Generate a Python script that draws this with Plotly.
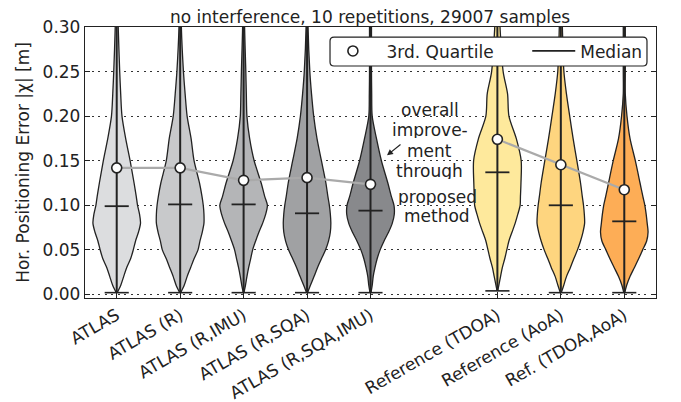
import plotly.graph_objects as go

# ---------------- data ----------------
categories = ["ATLAS", "ATLAS (R)", "ATLAS (R,IMU)", "ATLAS (R,SQA)", "ATLAS (R,SQA,IMU)",
              "Reference (TDOA)", "Reference (AoA)", "Ref. (TDOA,AoA)"]
positions = [0, 1, 2, 3, 4, 6, 7, 8]
medians = [0.099, 0.101, 0.101, 0.091, 0.094, 0.137, 0.100, 0.082]
third_quartiles = [0.142, 0.142, 0.128, 0.131, 0.1235, 0.174, 0.1455, 0.1175]
minima = [0.002, 0.002, 0.002, 0.002, 0.002, 0.004, 0.002, 0.002]
maxima = [0.40, 0.40, 0.40, 0.40, 0.40, 0.40, 0.40, 0.40]

# error levels at which the violin densities were read
levels = [0.0, 0.01, 0.02, 0.03, 0.04, 0.05, 0.06, 0.07, 0.08, 0.09, 0.10, 0.11,
          0.125, 0.15, 0.175, 0.20, 0.225, 0.25, 0.30, 0.33]
# relative (un-normalised) density at each level
dens_atlas = [0.5, 4, 7, 10, 14, 16.7, 19, 22, 24, 23, 21, 19.7, 17.5, 13.5, 9, 5.3, 4, 3, 1.5, 1]
dens_r = [0.5, 4, 7, 10.5, 14, 18, 20, 22.3, 24, 24, 23.3, 22, 19.5, 14, 11, 7, 5, 3.3, 1.2, 1]
dens_r_imu = [0.3, 1.8, 3.3, 5, 7, 9, 12, 15.3, 19, 22, 23.7, 21, 17.5, 10.5, 6, 3.3, 2.7, 2.2, 1, 1]
dens_r_sqa = [0.5, 3.3, 7, 10.5, 14.5, 18.7, 21.7, 23.5, 24, 23.5, 22.5, 21, 19, 14.5, 10, 6.7, 4.5, 2.8, 1, 1]
dens_r_sqa_imu = [0.5, 1.7, 2.7, 4.5, 6.7, 9.7, 13.7, 18.3, 22, 24, 23.7, 21, 17.5, 11, 6, 1.7, 1.2, 1, 1, 1]
dens_tdoa = [0.3, 1.3, 3, 4.7, 7, 9, 11, 14, 17, 19.5, 21.7, 22, 22.5, 22.7, 18, 11, 9.7, 5.5, 2.5, 1.5]
dens_aoa = [0.5, 2.8, 5.5, 9.3, 12.7, 16.3, 19.3, 21.7, 23.3, 23, 22.2, 21, 19.3, 15.7, 12, 8.7, 5.5, 3, 1.5, 1]
dens_tdoa_aoa = [0.5, 2.3, 5.7, 10, 14.3, 18.3, 22.3, 23.7, 22.8, 21.8, 20.5, 18.5, 15.7, 11, 5.7, 2.7, 1, 1, 1, 1]
densities = [dens_atlas, dens_r, dens_r_imu, dens_r_sqa, dens_r_sqa_imu,
             dens_tdoa, dens_aoa, dens_tdoa_aoa]

fill_colors = ["#dcdddf", "#c8c9cb", "#b4b5b7", "#a0a1a3", "#88898c",
               "#fee99c", "#fed57f", "#fdad56"]

title_text = "no interference, 10 repetitions, 29007 samples"
y_title = "Hor. Positioning Error |χ| [m]"
y_ticks = [0.00, 0.05, 0.10, 0.15, 0.20, 0.25, 0.30]
note_lines_1 = ["overall", "improve-", "ment", "through"]
note_y_1 = [0.2064, 0.184, 0.1605, 0.139]
note_lines_2 = ["proposed", "method"]
note_y_2 = [0.1095, 0.0875]

# ---------------- style ----------------
HALF_WIDTH = 0.375     # max half width of a violin (category units)
BAR_HALF = 0.19        # half length of median / minimum bars
EDGE = "#222222"
FONT = "DejaVu Sans"
FS = 17

fig = go.Figure()

# violin bodies
for pos, dens, col, mn in zip(positions, densities, fill_colors, minima):
    dmax = max(dens)
    ys = [mn] + levels[1:]
    ws = [HALF_WIDTH * d / dmax for d in dens]
    xs_right = [pos + w for w in ws]
    xs_left = [pos - w for w in ws]
    fig.add_trace(go.Scatter(
        x=xs_right + xs_left[::-1], y=ys + ys[::-1],
        mode="lines", fill="toself", fillcolor=col,
        line=dict(color=EDGE, width=1.3, shape="spline", smoothing=0.8),
        showlegend=False, hoverinfo="skip"))

# vertical extent lines
vx, vy = [], []
for pos, mn, mx in zip(positions, minima, maxima):
    vx += [pos, pos, None]
    vy += [mn, mx, None]
fig.add_trace(go.Scatter(x=vx, y=vy, mode="lines", line=dict(color=EDGE, width=2),
                         showlegend=False, hoverinfo="skip"))

# minimum bars
mx_, my_ = [], []
for pos, mn in zip(positions, minima):
    mx_ += [pos - BAR_HALF, pos + BAR_HALF, None]
    my_ += [mn, mn, None]
fig.add_trace(go.Scatter(x=mx_, y=my_, mode="lines", line=dict(color=EDGE, width=1.6),
                         showlegend=False, hoverinfo="skip"))

# connecting grey lines of third quartiles (two groups)
groups = [[0, 1, 2, 3, 4], [5, 6, 7]]
for g in groups:
    fig.add_trace(go.Scatter(x=[positions[i] for i in g], y=[third_quartiles[i] for i in g],
                             mode="lines", line=dict(color="#aaaaaa", width=2.2),
                             showlegend=False, hoverinfo="skip"))

# third quartile markers
fig.add_trace(go.Scatter(x=positions, y=third_quartiles, mode="markers", name="3rd. Quartile",
                         legend="legend",
                         marker=dict(symbol="circle", size=10, color="white",
                                     line=dict(color=EDGE, width=1.6))))

# median bars
medx, medy = [], []
for pos, md in zip(positions, medians):
    medx += [pos - BAR_HALF, pos + BAR_HALF, None]
    medy += [md, md, None]
fig.add_trace(go.Scatter(x=medx, y=medy, mode="lines", name="Median", legend="legend2",
                         line=dict(color=EDGE, width=1.8)))

# annotation text
for t, yv in zip(note_lines_1, note_y_1):
    fig.add_annotation(x=4.93, y=yv, text=t, showarrow=False, xanchor="center", yanchor="middle",
                       height=16, borderpad=0, font=dict(family=FONT, size=FS, color="#222"))
for t, yv in zip(note_lines_2, note_y_2):
    fig.add_annotation(x=5.05, y=yv, text=t, showarrow=False, xanchor="center", yanchor="middle",
                       height=16, borderpad=0, font=dict(family=FONT, size=FS, color="#222"))
fig.add_annotation(x=4.26, y=0.156, ax=15, ay=-12, text="", showarrow=True,
                   arrowhead=2, arrowsize=1, arrowwidth=1.2, arrowcolor="#222")

# rounded legend frame (paper coordinates)
x0, x1, y0, y1 = 0.4291, 0.9842, 0.856, 0.963
rx, ry = 0.007, 0.0148
frame = (f"M {x0+rx},{y0} L {x1-rx},{y0} Q {x1},{y0} {x1},{y0+ry} "
         f"L {x1},{y1-ry} Q {x1},{y1} {x1-rx},{y1} L {x0+rx},{y1} "
         f"Q {x0},{y1} {x0},{y1-ry} L {x0},{y0+ry} Q {x0},{y0} {x0+rx},{y0} Z")
fig.add_shape(type="path", path=frame, xref="paper", yref="paper", layer="above",
              fillcolor="white", line=dict(color=EDGE, width=1.2))

leg_common = dict(orientation="h", yanchor="middle", xanchor="left", y=0.91,
                  bgcolor="rgba(0,0,0,0)", borderwidth=0,
                  font=dict(family=FONT, size=FS, color="#222"))

fig.update_layout(
    width=681, height=402,
    margin=dict(l=85, r=25, t=27, b=104, autoexpand=False),
    paper_bgcolor="white", plot_bgcolor="white",
    font=dict(family=FONT, size=FS, color="#222"),
    title=dict(text=title_text, x=0.5435, xanchor="center", y=0.957, yanchor="middle",
               font=dict(family=FONT, size=FS, color="#222")),
    showlegend=True,
    legend=dict(x=0.4105, itemwidth=57, **leg_common),
    legend2=dict(x=0.7745, itemwidth=43, **leg_common),
)
fig.update_xaxes(range=[-0.5, 8.5], tickvals=positions, ticktext=categories, tickangle=-30,
                 automargin=False,
                 showgrid=False, zeroline=False, showline=True, linecolor=EDGE, linewidth=1.3,
                 mirror="ticks", ticks="inside", ticklen=6, tickcolor=EDGE,
                 tickfont=dict(family=FONT, size=FS, color="#222"))
fig.update_yaxes(range=[-0.004, 0.30], tickvals=y_ticks, tickformat=".2f",
                 automargin=False,
                 showgrid=True, gridcolor="#333333", griddash="2px,4.5px", gridwidth=1.2,
                 zeroline=False, showline=True, linecolor=EDGE, linewidth=1.3,
                 mirror="ticks", ticks="inside", ticklen=5, tickcolor=EDGE,
                 tickfont=dict(family=FONT, size=FS, color="#222"),
                 title=dict(text=y_title, standoff=8, font=dict(family=FONT, size=FS, color="#222")))

fig.write_html("out.html")
